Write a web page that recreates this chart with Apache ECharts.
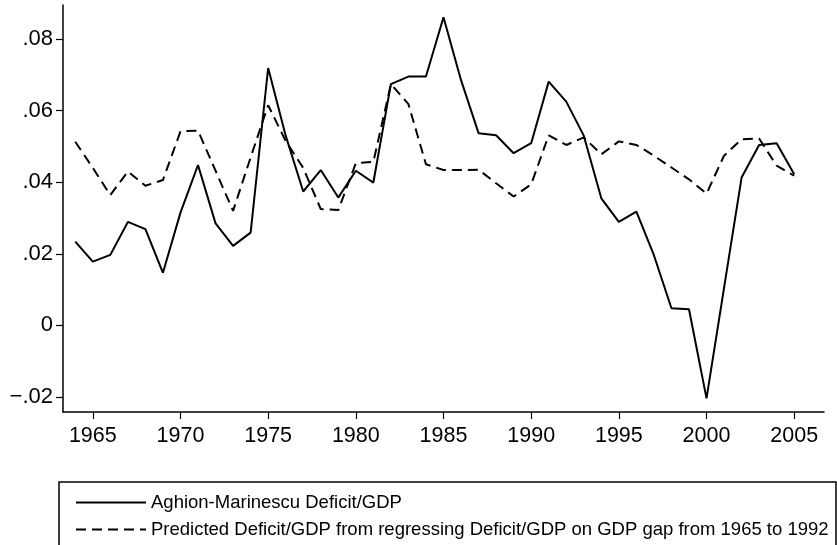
<!DOCTYPE html>
<html>
<head>
<meta charset="utf-8">
<script src="https://cdn.jsdelivr.net/npm/echarts@6/dist/echarts.min.js"></script>
<style>
 html, body { margin: 0; padding: 0; background: #fff; }
 #chart { width: 837px; height: 545px; }
</style>
</head>
<body>
<div id="chart"></div>
<script>
// years 1964..2005
const years = [1964, 1965, 1966, 1967, 1968, 1969, 1970, 1971, 1972, 1973,
 1974, 1975, 1976, 1977, 1978, 1979, 1980, 1981, 1982, 1983,
 1984, 1985, 1986, 1987, 1988, 1989, 1990, 1991, 1992, 1993,
 1994, 1995, 1996, 1997, 1998, 1999, 2000, 2001, 2002, 2003,
 2004, 2005]

// Aghion-Marinescu Deficit/GDP
const actualDeficit = [0.0234, 0.0178, 0.0197, 0.0289, 0.0269, 0.0147, 0.0315, 0.0448, 0.0285, 0.0222,
 0.0259, 0.0719, 0.0530, 0.0374, 0.0434, 0.0357, 0.0432, 0.0399, 0.0674, 0.0695,
 0.0695, 0.0861, 0.0685, 0.0537, 0.0531, 0.0481, 0.0509, 0.0681, 0.0625, 0.0530,
 0.0355, 0.0289, 0.0318, 0.0196, 0.0048, 0.0045, -0.0204, 0.0105, 0.0413, 0.0504,
 0.0509, 0.0422]

// predicted from GDP gap regression
const predictedDeficit = [0.0513, 0.0440, 0.0364, 0.0430, 0.0390, 0.0406, 0.0542, 0.0544, 0.0432, 0.0320,
 0.0469, 0.0615, 0.0515, 0.0440, 0.0325, 0.0322, 0.0453, 0.0457, 0.0674, 0.0618,
 0.0450, 0.0434, 0.0434, 0.0435, 0.0397, 0.0360, 0.0394, 0.0531, 0.0504, 0.0525,
 0.0478, 0.0514, 0.0504, 0.0474, 0.0441, 0.0408, 0.0368, 0.0474, 0.0520, 0.0522,
 0.0446, 0.0418]

const xTicks = [1965, 1970, 1975, 1980, 1985, 1990, 1995, 2000, 2005]
const yTicks = [-0.02, 0, 0.02, 0.04, 0.06, 0.08]

const seriesNames = [
 'Aghion-Marinescu Deficit/GDP',
 'Predicted Deficit/GDP from regressing Deficit/GDP on GDP gap from 1965 to 1992'
]

const fontFamily = '"Liberation Sans", Arial, Helvetica, sans-serif'

const fmtY = (v) => {
 if (Math.abs(v) < 1e-9) return '0'
 const s = Math.abs(v).toFixed(2).replace(/^0/, '')
 return v < 0 ? '\u2212' + s : s
}

const pairs = (vals) => years.map((y, i) => [y, vals[i]])

const chart = echarts.init(document.getElementById('chart'), null, { renderer: 'canvas' })

const option = {
 animation: false,
 backgroundColor: '#fff',
 grid: {
  left: 63,
  right: 13,
  top: 5,
  bottom: 133
 },
 xAxis: {
  type: 'value',
  min: 1963.3,
  max: 2006.7,
  axisLine: { show: true, onZero: false, lineStyle: { color: '#000', width: 1.5 } },
  axisTick: {
   show: true,
   customValues: xTicks,
   length: 7,
   lineStyle: { color: '#000', width: 1.2 }
  },
  axisLabel: {
   customValues: xTicks,
   margin: 13,
   color: '#000',
   fontSize: 21.5,
   fontFamily: fontFamily,
   formatter: (v) => String(v)
  },
  splitLine: { show: false }
 },
 yAxis: {
  type: 'value',
  min: -0.0242,
  max: 0.0895,
  axisLine: { show: true, onZero: false, lineStyle: { color: '#000', width: 1.5 } },
  axisTick: {
   show: true,
   customValues: yTicks,
   length: 7,
   lineStyle: { color: '#000', width: 1.2 }
  },
  axisLabel: {
   customValues: yTicks,
   margin: 10,
   color: '#000',
   fontSize: 22,
   fontFamily: fontFamily,
   formatter: fmtY
  },
  splitLine: { show: false }
 },
 legend: {
  orient: 'vertical',
  left: 70,
  top: 488,
  itemWidth: 70,
  itemHeight: 12,
  itemGap: 8,
  data: seriesNames,
  itemStyle: { opacity: 0 },
  textStyle: { color: '#000', fontSize: 18.5, fontFamily: fontFamily }
 },
 graphic: [{
  type: 'rect',
  shape: { x: 59, y: 482, width: 777, height: 70 },
  style: { fill: 'none', stroke: '#000', lineWidth: 1.5 },
  silent: true
 }],
 series: [
  {
   name: seriesNames[0],
   type: 'line',
   data: pairs(actualDeficit),
   symbol: 'none',
   lineStyle: { color: '#000', width: 2 },
   itemStyle: { color: '#000' }
  },
  {
   name: seriesNames[1],
   type: 'line',
   data: pairs(predictedDeficit),
   symbol: 'none',
   lineStyle: { color: '#000', width: 2, type: [10, 6] },
   itemStyle: { color: '#000' }
  }
 ]
}

chart.setOption(option, true)
</script>
</body>
</html>
